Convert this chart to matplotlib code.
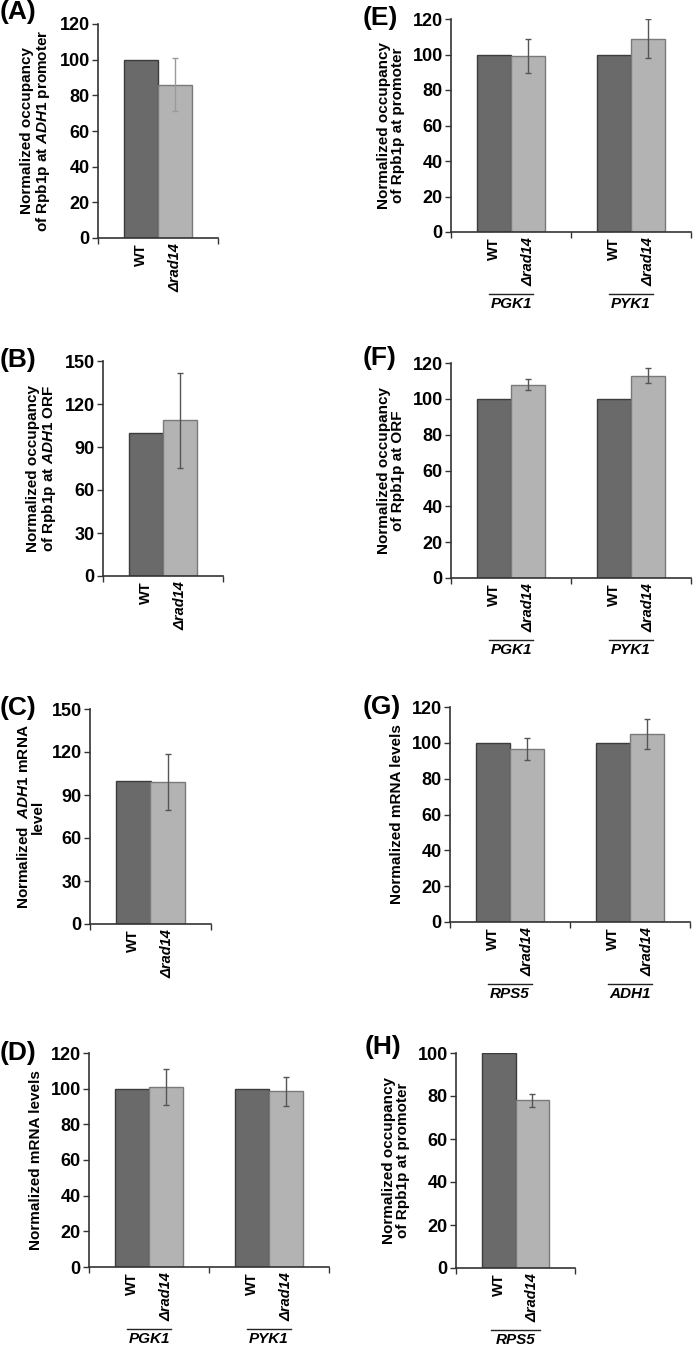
import matplotlib
matplotlib.use('Agg')
import matplotlib.pyplot as plt
from matplotlib.lines import Line2D
from matplotlib.transforms import ScaledTranslation

plt.rcParams['font.family'] = 'Liberation Sans'
plt.rcParams['font.weight'] = 'bold'
plt.rcParams['mathtext.fontset'] = 'custom'
plt.rcParams['mathtext.it'] = 'Liberation Sans:italic:bold'
plt.rcParams['mathtext.rm'] = 'Liberation Sans:bold'

W, H = 693, 1346

# data
strains = ['WT', 'Δrad14']

a_genes = ['']
a_wt = [100]
a_mut = [86]
a_err = [15]

b_genes = ['']
b_wt = [100]
b_mut = [108.5]
b_err = [33]

c_genes = ['']
c_wt = [100]
c_mut = [99]
c_err = [19.5]

d_genes = ['PGK1', 'PYK1']
d_wt = [100, 100]
d_mut = [101, 98.5]
d_err = [10, 8.3]

e_genes = ['PGK1', 'PYK1']
e_wt = [100, 100]
e_mut = [99, 109]
e_err = [9.5, 10.8]

f_genes = ['PGK1', 'PYK1']
f_wt = [100, 100]
f_mut = [108, 113]
f_err = [3, 4.3]

g_genes = ['RPS5', 'ADH1']
g_wt = [100, 100]
g_mut = [96.5, 105]
g_err = [6.2, 8.5]

h_genes = ['RPS5']
h_wt = [100]
h_mut = [78]
h_err = [3]

WT_COLOR = '#6a6a6a'
WT_EDGE = '#3c3c3c'
MUT_COLOR = '#b3b3b3'
MUT_EDGE = '#7a7a7a'


def panel(fig, box, letter, letter_xy, genes, wt, mut, err, ymax, ystep, ylabel,
          err_color='#555555', line_half=0.18):
    left, right, top, bottom = box
    ax = fig.add_axes([left / W, 1 - bottom / H, (right - left) / W, (bottom - top) / H])
    n = len(genes)
    w = 0.283
    xs = list(range(n))
    ax.bar([x + 0.5 - w for x in xs], wt, width=w, align='edge',
           color=WT_COLOR, edgecolor=WT_EDGE, linewidth=1)
    ax.bar([x + 0.5 for x in xs], mut, width=w, align='edge',
           color=MUT_COLOR, edgecolor=MUT_EDGE, linewidth=1)
    ax.errorbar([x + 0.5 + w / 2 for x in xs], mut, yerr=err, fmt='none',
                ecolor=err_color, elinewidth=1, capsize=2, capthick=1)

    ax.set_xlim(0, n)
    ax.set_ylim(0, ymax)
    ax.set_yticks(range(0, ymax + 1, ystep))
    ax.set_yticklabels([str(v) for v in range(0, ymax + 1, ystep)],
                       fontsize=13, fontweight='bold')
    ax.tick_params(axis='y', length=4, width=1, pad=2, color='#333333')

    ax.set_xticks(range(n + 1))
    ax.set_xticklabels([])
    ax.tick_params(axis='x', which='major', length=4, width=1, color='#333333')
    centers = []
    for x in xs:
        centers += [x + 0.5 - w / 2, x + 0.5 + w / 2]
    ax.set_xticks(centers, minor=True)
    ax.set_xticklabels(strains * n, minor=True, rotation=90, fontsize=10.5,
                       fontweight='bold')
    ax.tick_params(axis='x', which='minor', length=0, pad=4)
    for i, t in enumerate(ax.get_xticklabels(minor=True)):
        if i % 2 == 1:
            t.set_fontstyle('italic')

    for side in ['top', 'right']:
        ax.spines[side].set_visible(False)
    for side in ['left', 'bottom']:
        ax.spines[side].set_color('#333333')
        ax.spines[side].set_linewidth(1.2)

    ax.set_ylabel(ylabel, fontsize=11, fontweight='bold', linespacing=1.0, labelpad=5)

    # gene names with overline below the strain labels
    trans = ax.get_xaxis_transform()
    for x, g in zip(xs, genes):
        if not g:
            continue
        off = ScaledTranslation(0, -62 / 100, fig.dpi_scale_trans)
        ln = Line2D([x + 0.5 - line_half, x + 0.5 + line_half], [0, 0],
                    transform=trans + off, color='#222222', linewidth=1, clip_on=False)
        ax.add_line(ln)
        ax.text(x + 0.5, 0, g, transform=trans + ScaledTranslation(0, -72 / 100, fig.dpi_scale_trans),
                ha='center', va='center', fontsize=11, fontweight='bold',
                fontstyle='italic')

    fig.text(letter_xy[0] / W, 1 - letter_xy[1] / H, '(' + letter + ')', fontsize=19,
             fontweight='bold', ha='left', va='center')
    return ax


fig = plt.figure(figsize=(W / 100, H / 100), dpi=100)

panel(fig, (98, 218, 24, 238), 'A', (0, 12), a_genes, a_wt, a_mut, a_err, 120, 20,
      'Normalized occupancy\nof Rpb1p at $\\mathit{ADH1}$ promoter', err_color='#9a9a9a')
panel(fig, (103, 223, 361, 576), 'B', (0, 360), b_genes, b_wt, b_mut, b_err, 150, 30,
      'Normalized occupancy\nof Rpb1p at $\\mathit{ADH1}$ ORF')
panel(fig, (90, 211, 709, 924), 'C', (0, 708), c_genes, c_wt, c_mut, c_err, 150, 30,
      'Normalized  $\\mathit{ADH1}$ mRNA\nlevel')
panel(fig, (89, 329, 1053, 1267), 'D', (0, 1053), d_genes, d_wt, d_mut, d_err, 120, 20,
      'Normalized mRNA levels')
panel(fig, (451, 691, 19, 232), 'E', (363, 18), e_genes, e_wt, e_mut, e_err, 120, 20,
      'Normalized occupancy\nof Rpb1p at promoter')
panel(fig, (451, 691, 363, 578), 'F', (363, 358), f_genes, f_wt, f_mut, f_err, 120, 20,
      'Normalized occupancy\nof Rpb1p at ORF')
panel(fig, (450, 690, 707, 922), 'G', (363, 707), g_genes, g_wt, g_mut, g_err, 120, 20,
      'Normalized mRNA levels')
panel(fig, (456, 575, 1053, 1268), 'H', (365, 1047), h_genes, h_wt, h_mut, h_err, 100, 20,
      'Normalized occupancy\nof Rpb1p at promoter', line_half=0.21)

fig.savefig('out.png', dpi=100)
